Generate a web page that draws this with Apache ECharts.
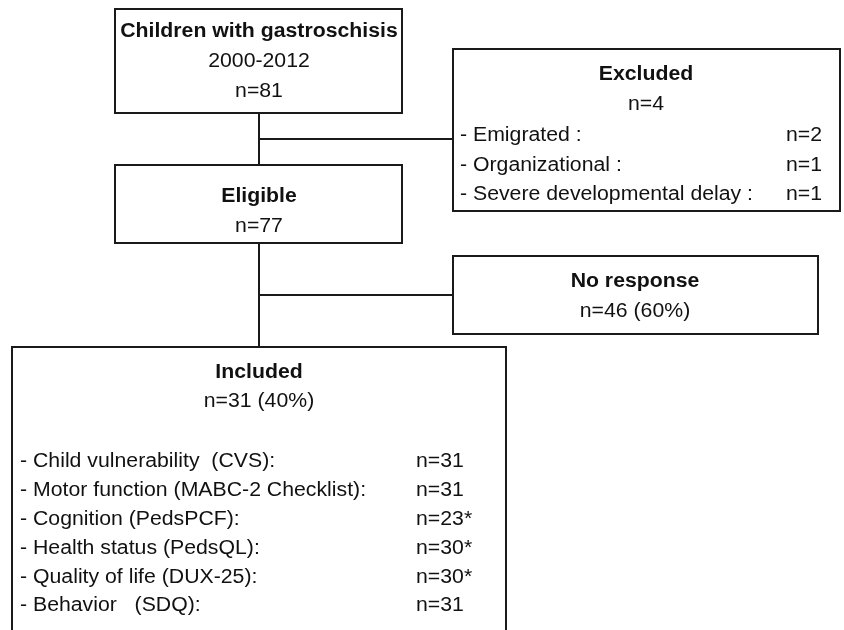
<!DOCTYPE html>
<html>
<head>
<meta charset="utf-8">
<script src="https://cdn.jsdelivr.net/npm/echarts@6/dist/echarts.min.js"></script>
<style>
  html, body { margin: 0; padding: 0; background: #fff; }
  #chart { width: 844px; height: 630px; }
</style>
</head>
<body>
<div id="chart"></div>
<script>
// flow chart content
var cohortTitle = 'Children with gastroschisis';
var cohortYears = '2000-2012';
var cohortN = 81;

var excludedN = 4;
var excludedReasons = ['- Emigrated :', '- Organizational :', '- Severe developmental delay :'];
var excludedCounts = [2, 1, 1];

var eligibleN = 77;

var noResponseN = 46;
var noResponsePct = 60;

var includedN = 31;
var includedPct = 40;
var measures = [
  '- Child vulnerability  (CVS):',
  '- Motor function (MABC-2 Checklist):',
  '- Cognition (PedsPCF):',
  '- Health status (PedsQL):',
  '- Quality of life (DUX-25):',
  '- Behavior   (SDQ):'
];
var measureCounts = [31, 31, 23, 30, 30, 31];
var measureFlag = ['', '', '*', '*', '*', ''];

var FONT = '"Liberation Sans", Arial, sans-serif';
var SIZE = 19.5;
var STRETCH = 1.09; // source text is a bit wider than tall
var INK = '#1a1a1a';

var chart = echarts.init(document.getElementById('chart'), null, { renderer: 'canvas' });

function box(x1, y1, x2, y2) {
  return {
    type: 'rect',
    shape: { x: x1, y: y1, width: x2 - x1, height: y2 - y1 },
    style: { fill: '#fff', stroke: INK, lineWidth: 2 }
  };
}
function line(x1, y1, x2, y2) {
  return {
    type: 'line',
    shape: { x1: x1, y1: y1, x2: x2, y2: y2 },
    style: { stroke: INK, lineWidth: 2 }
  };
}
function txt(s, x, y, align, bold) {
  return {
    type: 'text',
    x: x, y: y,
    scaleX: STRETCH,
    style: {
      text: s,
      fill: '#111',
      font: (bold ? 'bold ' : '') + SIZE + 'px ' + FONT,
      textAlign: align || 'center',
      textVerticalAlign: 'middle'
    }
  };
}

var els = [];
// connectors first so boxes sit on top
els.push(line(259, 113, 259, 347));
els.push(line(259, 139, 453, 139));
els.push(line(259, 295, 453, 295));

// cohort
els.push(box(115, 9, 402, 113));
els.push(txt(cohortTitle, 259, 32, 'center', true));
els.push(txt(cohortYears, 259, 62));
els.push(txt('n=' + cohortN, 259, 92));

// excluded
els.push(box(453, 49, 840, 211));
els.push(txt('Excluded', 646, 75, 'center', true));
els.push(txt('n=' + excludedN, 646, 105));
excludedReasons.forEach(function (r, i) {
  els.push(txt(r, 460, 136 + i * 29.5, 'left'));
  els.push(txt('n=' + excludedCounts[i], 786, 136 + i * 29.5, 'left'));
});

// eligible
els.push(box(115, 165, 402, 243));
els.push(txt('Eligible', 259, 197, 'center', true));
els.push(txt('n=' + eligibleN, 259, 227));

// no response
els.push(box(453, 256, 818, 334));
els.push(txt('No response', 635, 282, 'center', true));
els.push(txt('n=' + noResponseN + ' (' + noResponsePct + '%)', 635, 312));

// included (box runs past the bottom edge)
els.push(box(12, 347, 506, 660));
els.push(txt('Included', 259, 373, 'center', true));
els.push(txt('n=' + includedN + ' (' + includedPct + '%)', 259, 402));
measures.forEach(function (m, i) {
  var y = 462 + i * 28.8;
  els.push(txt(m, 20, y, 'left'));
  els.push(txt('n=' + measureCounts[i] + measureFlag[i], 416, y, 'left'));
});

chart.setOption({
  animation: false,
  graphic: { elements: els }
});
</script>
</body>
</html>
